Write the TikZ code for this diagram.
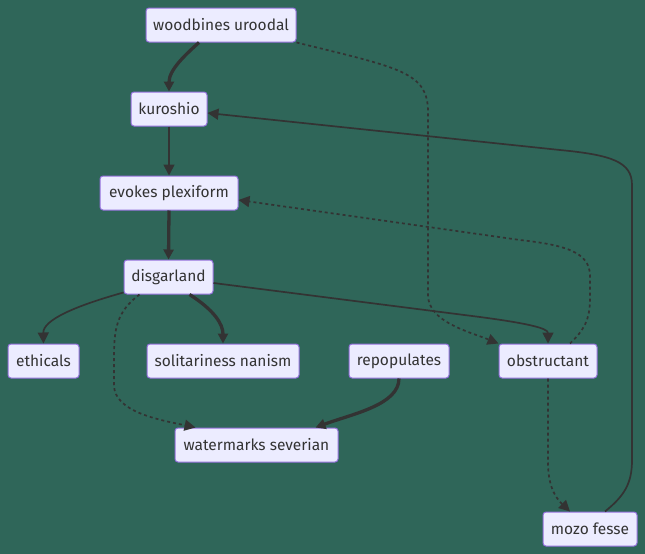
\documentclass[tikz,border=0pt]{standalone}
\usepackage{fontspec}
\setmainfont{Fira Sans}
\usetikzlibrary{arrows.meta}
\definecolor{bg}{RGB}{47,102,89}
\definecolor{nodefill}{HTML}{ECECFF}
\definecolor{nodeline}{HTML}{9370DB}
\definecolor{edge}{HTML}{333333}
\begin{document}
\begin{tikzpicture}[x=1pt,y=-1pt,
  box/.style={draw=nodeline, fill=nodefill, line width=1pt, rounded corners=3pt,
    minimum height=34pt, inner xsep=0pt, text=edge,
    font=\fontsize{15.5}{18}\selectfont},
  link/.style={draw=edge, line width=1.7pt, -{Triangle[length=11pt,width=11pt]}},
  heavy/.style={link, line width=3.3pt, -{Triangle[length=10pt,width=10pt]}},
  dots/.style={link, dash pattern=on 3pt off 3pt, -{Triangle[length=11pt,width=11pt]}}]
\fill[bg] (0,0) rectangle (645,554);
\useasboundingbox (0,0) rectangle (645,554);
\node[box, minimum width=150pt] (wood) at (221,25) {woodbines uroodal};
\node[box, minimum width=76pt] (kuro) at (169,109) {kuroshio};
\node[box, minimum width=138pt] (evok) at (169,193) {evokes plexiform};
\node[box, minimum width=89pt] (disg) at (168.5,277) {disgarland};
\node[box, minimum width=71pt] (ethi) at (43.5,361) {ethicals};
\node[box, minimum width=152pt] (soli) at (223,361) {solitariness nanism};
\node[box, minimum width=100pt] (repo) at (399,361) {repopulates};
\node[box, minimum width=98pt] (obst) at (548,361) {obstructant};
\node[box, minimum width=163pt] (wate) at (256.5,445) {watermarks severian};
\node[box, minimum width=94pt] (mozo) at (590,529) {mozo fesse};

\draw[heavy] ([xshift=-22pt]wood.south) .. controls (185,55) and (169,70) .. (kuro.north);
\draw[dots] (wood.south east) .. controls (400,68) and (428,72) .. (428,112) -- (428,295)
  .. controls (428,322) and (470,332) .. (obst.north west);
\draw[link] (kuro.south) -- (evok.north);
\draw[heavy] (evok.south) -- (disg.north);
\draw[link] ([yshift=2pt]disg.south west) .. controls (75,306) and (43,320) .. (ethi.north);
\draw[heavy] ([xshift=21pt]disg.south) .. controls (214,310) and (223,324) .. (soli.north);
\draw[dots] ([xshift=-29pt]disg.south) .. controls (116,312) and (114,330) .. (114,358) -- (114,385)
  .. controls (114,412) and (160,420) .. ([xshift=-61pt]wate.north);
\draw[link] ([yshift=-6pt]disg.east) -- (480,317) .. controls (525,323) and (548,328) .. (obst.north);
\draw[heavy] (repo.south) .. controls (399,405) and (352,414) .. ([xshift=59pt]wate.north);
\draw[dots] ([xshift=22pt]obst.north) .. controls (584,330) and (590,320) .. (590,298) -- (590,276)
  .. controls (590,252) and (565,245) .. (520,240) -- ([yshift=-7pt]evok.east);
\draw[dots] (obst.south) -- (548,462) .. controls (548,490) and (558,500) .. ([xshift=-20pt]mozo.north);
\draw[link] ([xshift=15pt]mozo.north) .. controls (624,496) and (632,484) .. (632,460) -- (632,185)
  .. controls (632,162) and (612,155) .. (560,150) -- ([yshift=-4pt]kuro.east);
\end{tikzpicture}
\end{document}
